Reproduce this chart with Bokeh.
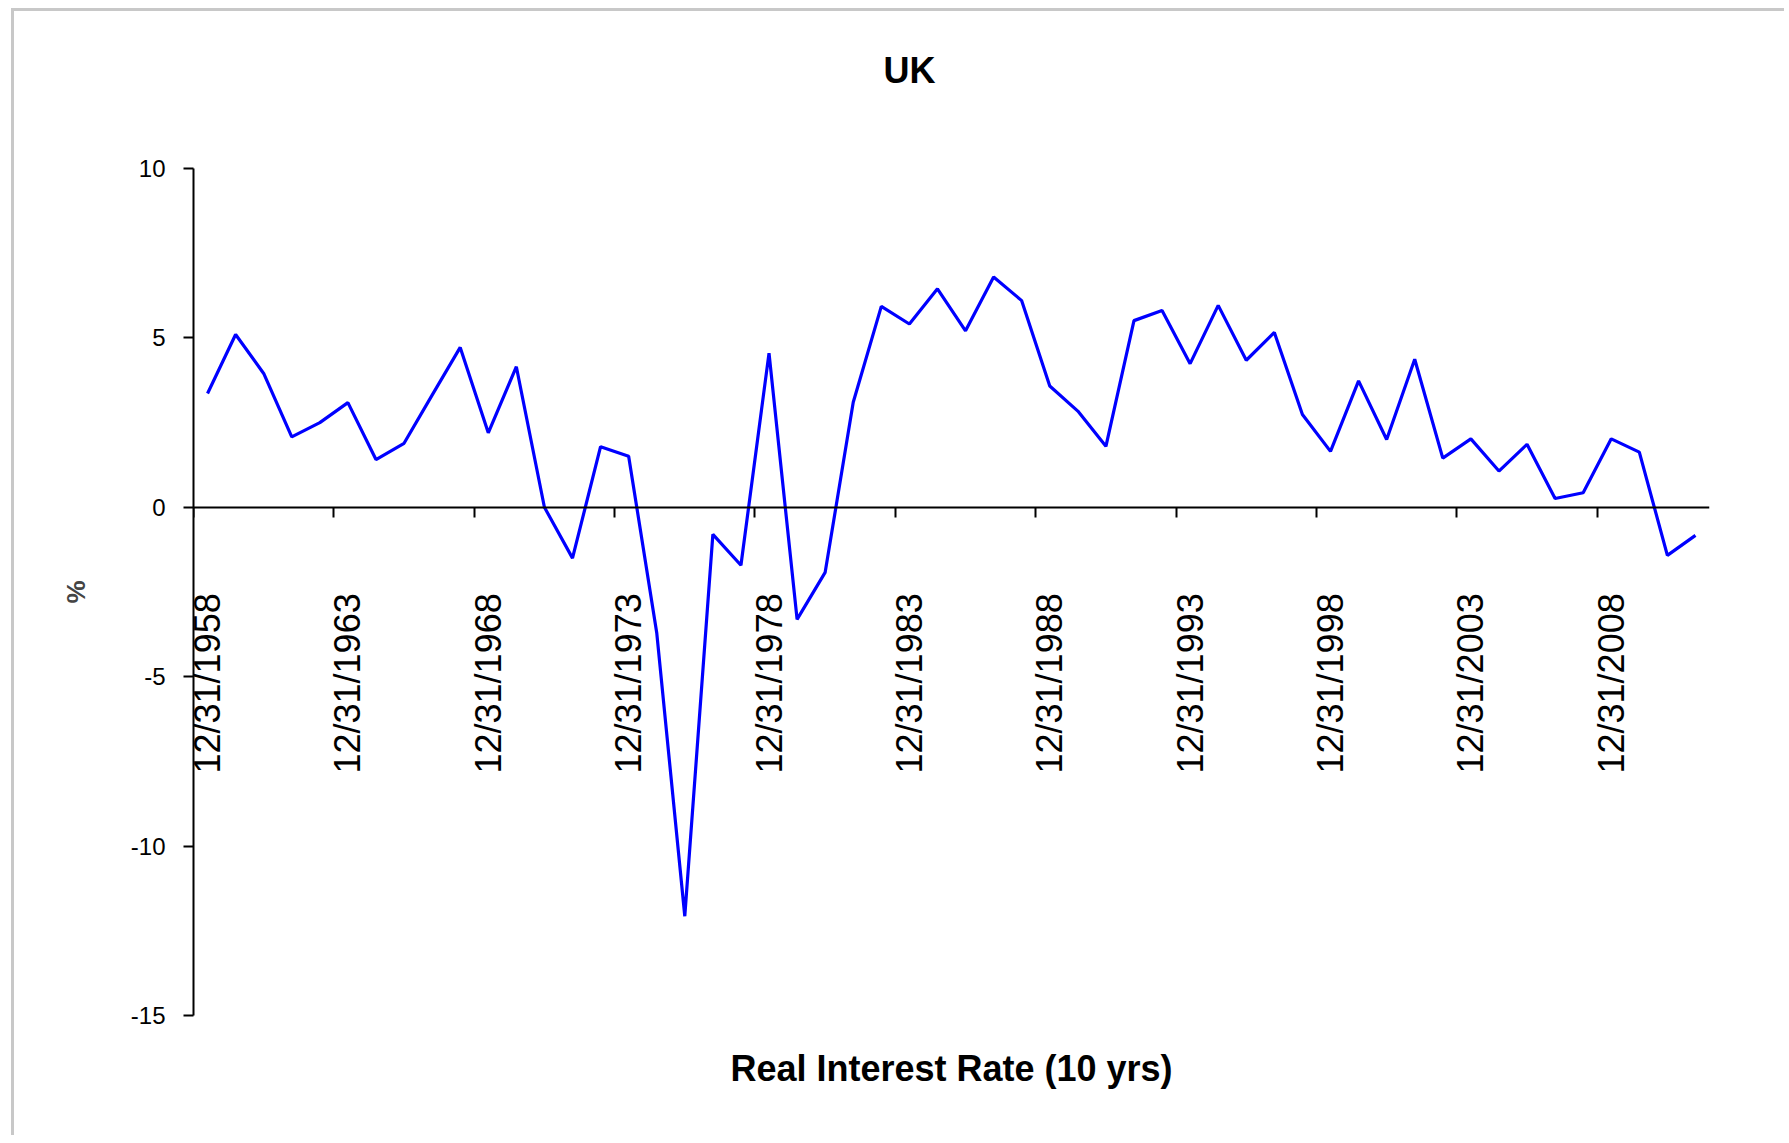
import math
from bokeh.plotting import figure
from bokeh.models import LinearAxis, FixedTicker, Range1d, Title
from bokeh.embed import file_html
from bokeh.resources import INLINE

years = list(range(1958, 2012))
real_rate = [3.36, 5.10, 3.95, 2.08, 2.50, 3.09, 1.41, 1.89, 3.31, 4.72,
             2.20, 4.15, 0.00, -1.50, 1.79, 1.51, -3.70, -12.07, -0.80, -1.71,
             4.55, -3.31, -1.92, 3.10, 5.93, 5.41, 6.45, 5.21, 6.80, 6.10,
             3.58, 2.84, 1.80, 5.51, 5.81, 4.24, 5.96, 4.34, 5.16, 2.74,
             1.65, 3.73, 2.00, 4.37, 1.45, 2.02, 1.07, 1.86, 0.26, 0.43,
             2.02, 1.63, -1.42, -0.83]
label_years = [1958, 1963, 1968, 1973, 1978, 1983, 1988, 1993, 1998, 2003, 2008]
label_texts = ["12/31/%d" % y for y in label_years]
y_ticks = [-15, -10, -5, 0, 5, 10]
y_tick_labels = ["-15", "-10", "-5", "0", "5", "10"]
chart_title = "UK"
x_title = "Real Interest Rate (10 yrs)"
y_title = "%"

FONT = "Liberation Sans"

p = figure(width=1773, height=1127, output_backend="svg", toolbar_location=None,
           x_range=Range1d(years[0] - 0.5, years[-1] + 0.5),
           y_range=Range1d(-15, 10),
           x_axis_location=None, y_axis_location=None,
           min_border_left=179, min_border_right=78,
           min_border_top=157, min_border_bottom=123)
p.margin = (8, 0, 0, 11)
p.styles = {"border-left": "3px solid #c8c8c8", "border-top": "3px solid #c8c8c8"}
p.grid.visible = False
p.outline_line_color = None
p.background_fill_color = "white"
p.border_fill_color = "white"

# invisible spacer axis above the plot area (keeps the title high)
mid = (years[0] + years[-1]) / 2
spacer = LinearAxis(ticker=FixedTicker(ticks=[mid]), axis_line_color=None,
                    major_tick_line_color=None, minor_tick_line_color=None,
                    major_label_text_color=None, major_label_text_font_size="1px",
                    major_tick_out=73, major_tick_in=0, minor_tick_out=0, minor_tick_in=0,
                    major_label_standoff=0)
p.add_layout(spacer, "above")

# title
p.title.text = chart_title
p.title.text_font = FONT
p.title.text_font_size = "36px"
p.title.text_font_style = "bold"
p.title.align = "left"
p.title.offset = 690
p.title.standoff = 10
p.title.text_color = "black"

# y axis
yax = LinearAxis(ticker=FixedTicker(ticks=y_ticks),
                 major_label_overrides={t: s for t, s in zip(y_ticks, y_tick_labels)},
                 axis_label=y_title, axis_label_text_font=FONT,
                 axis_label_text_font_size="26px", axis_label_text_font_style="bold",
                 axis_label_standoff=37,
                 major_label_text_font=FONT, major_label_text_font_size="24px",
                 major_label_text_color="black", major_label_standoff=18,
                 major_tick_out=10, major_tick_in=0, minor_tick_out=0, minor_tick_in=0,
                 axis_line_width=2, major_tick_line_width=2)
p.add_layout(yax, "left")

# x axis: tick marks between categories (no labels)
tick_pos = [y - 0.5 for y in label_years]
xtick_ax = LinearAxis(ticker=FixedTicker(ticks=tick_pos), fixed_location=0,
                      major_label_text_color=None,
                      major_tick_out=10, major_tick_in=0, minor_tick_out=0, minor_tick_in=0,
                      axis_line_width=2, major_tick_line_width=2)
p.add_layout(xtick_ax, "below")

# x axis: labels at category centers
xlab_ax = LinearAxis(ticker=FixedTicker(ticks=label_years), fixed_location=0,
                     major_label_overrides={t: s for t, s in zip(label_years, label_texts)},
                     major_label_orientation=math.pi / 2,
                     major_label_text_font=FONT, major_label_text_font_size="36px",
                     major_label_text_color="black", major_label_standoff=86,
                     major_tick_out=0, major_tick_in=0, minor_tick_out=0, minor_tick_in=0,
                     axis_line_color=None)
p.add_layout(xlab_ax, "below")

# x axis title (below the plot area)
p.add_layout(Title(text=x_title, align="center", text_font=FONT, text_font_size="36px",
                   text_font_style="bold", text_color="black", standoff=60), "below")

p.line(years, real_rate, line_color="#0000FF", line_width=3.2)

open("out.html", "w").write(file_html(p, INLINE))
